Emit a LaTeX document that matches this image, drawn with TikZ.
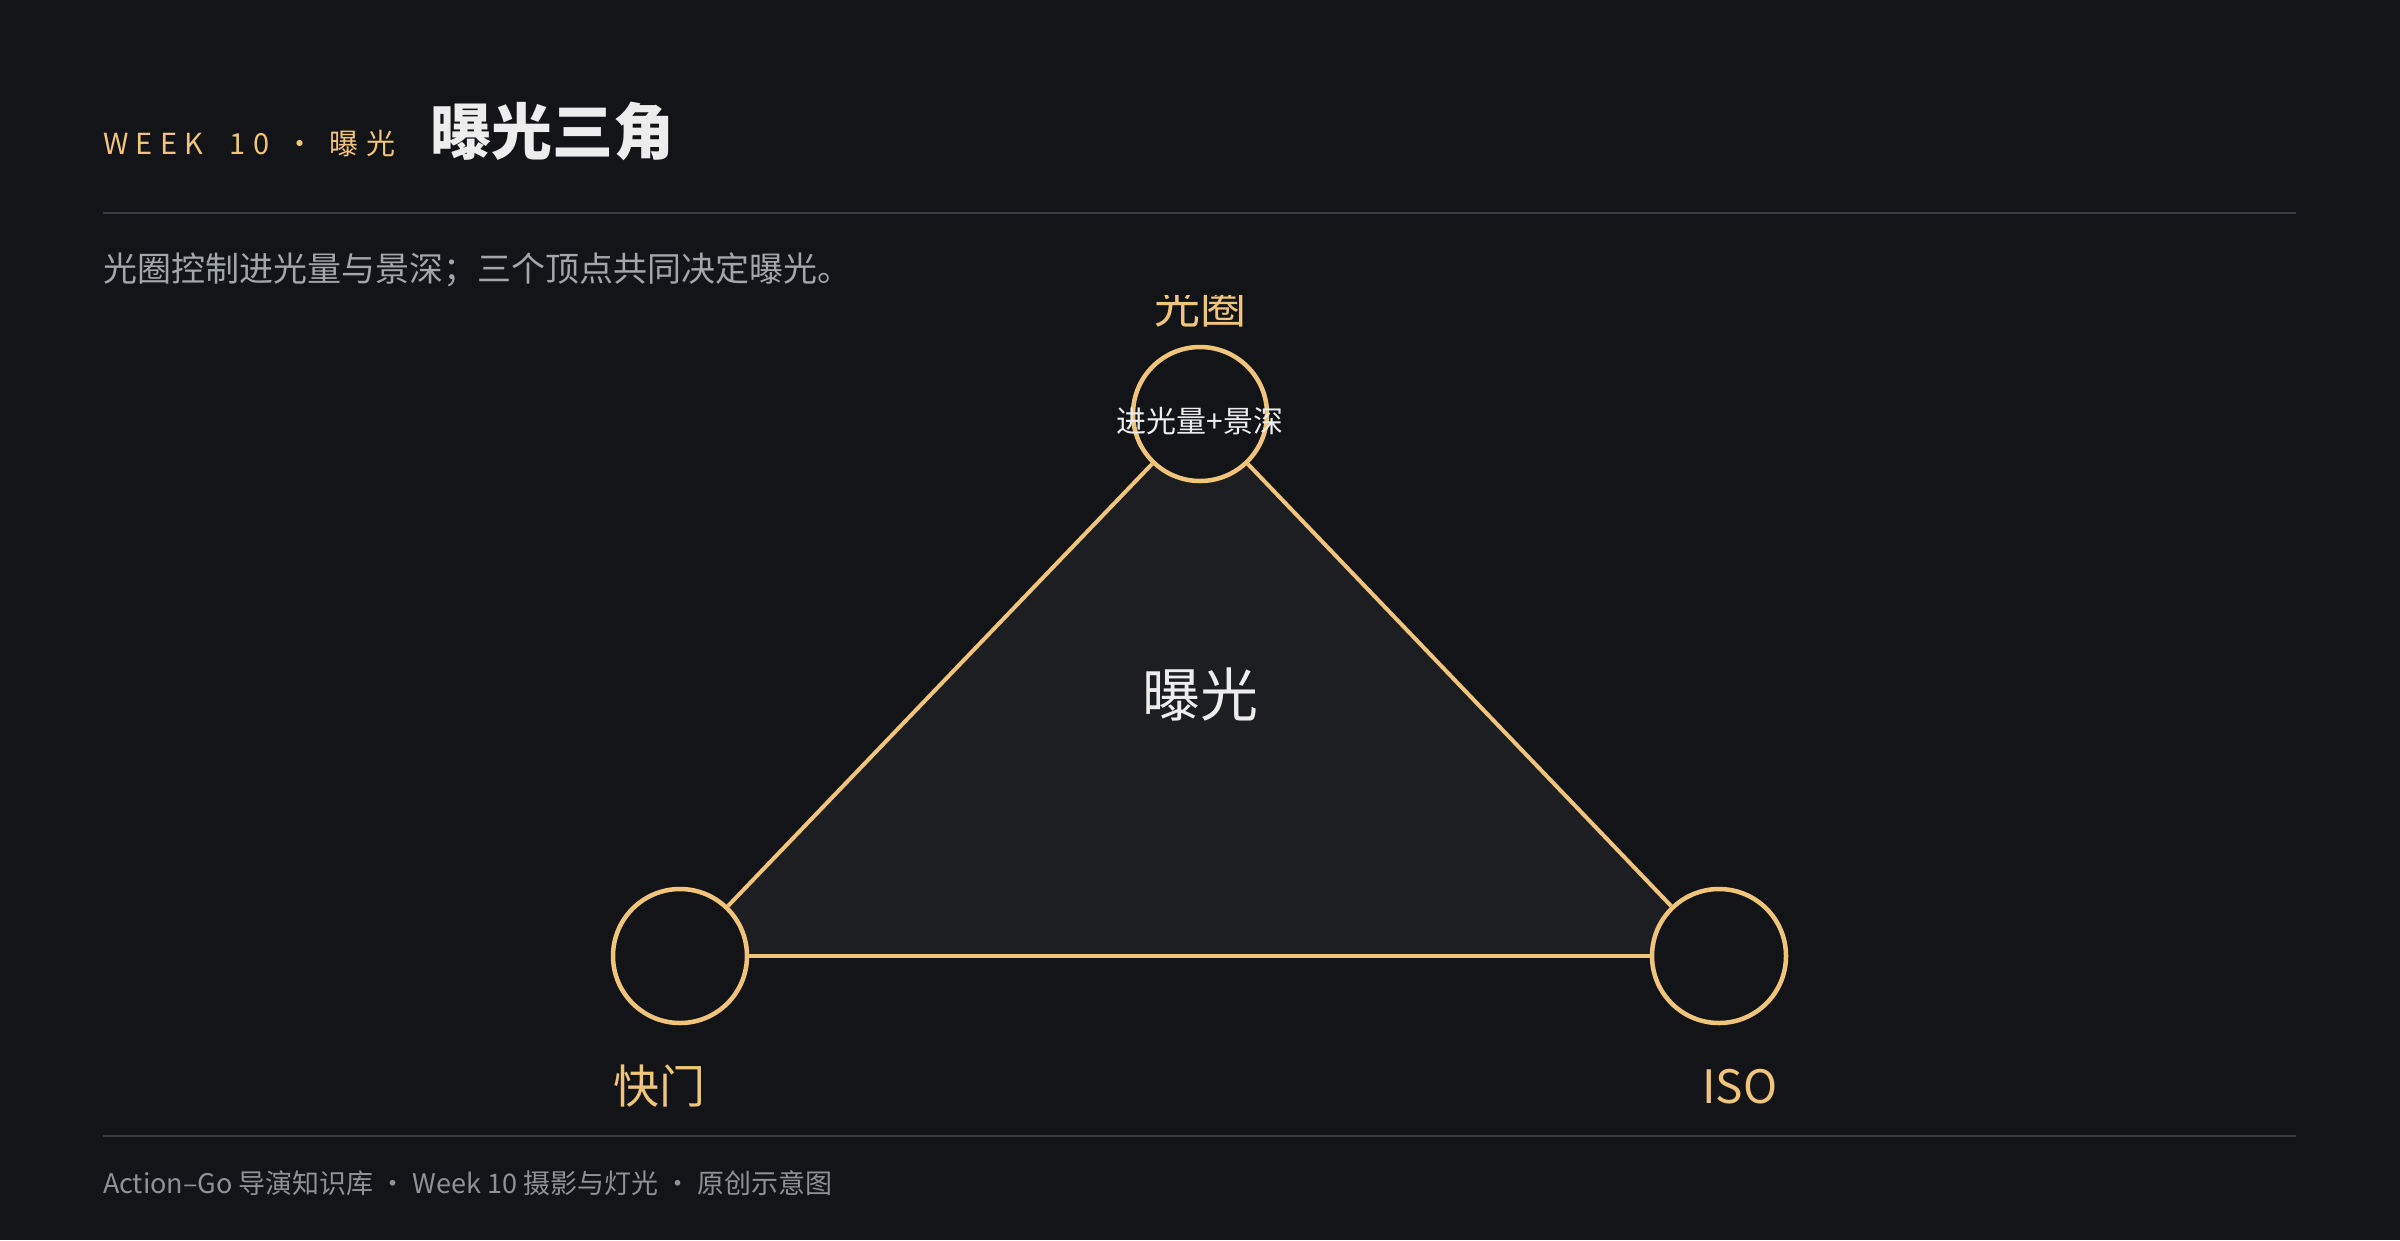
\documentclass[tikz,border=0pt]{standalone}
\usepackage{fontspec}
\setmainfont{Noto Sans CJK SC}
\definecolor{bgc}{HTML}{131417}
\definecolor{trifill}{HTML}{1D1E22}
\definecolor{gold}{HTML}{F0C47A}
\definecolor{rulec}{HTML}{3A3B40}
\definecolor{subgrey}{HTML}{A2A5AA}
\definecolor{footgrey}{HTML}{8E9196}
\definecolor{whitec}{HTML}{EDEDED}
\tikzset{
  txt/.style={inner sep=0pt, outer sep=0pt},
  vertex/.style={circle, draw=gold, line width=4.5pt, fill=bgc, minimum size=134pt, inner sep=0pt},
  edge/.style={draw=gold, line width=4pt},
  rulestyle/.style={draw=rulec, line width=2pt},
}
\begin{document}
\begin{tikzpicture}[x=1pt,y=-1pt]
\fill[bgc] (0,0) rectangle (2400,1240);
\useasboundingbox (0,0) rectangle (2400,1240);
% header
\node[txt, anchor=base west, text=gold, font=\fontsize{29}{35}\selectfont\addfontfeature{LetterSpace=25}] (kicker) at (103,154) {WEEK\hspace{13pt} 10\hspace{2pt} ·\hspace{2pt} 曝光};
\node[txt, anchor=west, text=whitec, font=\fontsize{61}{70}\selectfont\bfseries] (title) at (430,131) {曝光三角};
\coordinate (r1a) at (103,213);
\coordinate (r1b) at (2296,213);
\draw[rulestyle] (r1a) -- (r1b);
\node[txt, anchor=base west, text=subgrey, font=\fontsize{34}{40}\selectfont] (sub) at (103,281) {光圈控制进光量与景深；三个顶点共同决定曝光。};
% triangle
\coordinate (ct) at (1200,414);
\coordinate (cl) at (680,956);
\coordinate (cr) at (1719,956);
\fill[trifill] (ct) -- (cl) -- (cr) -- cycle;
\node[vertex] (top) at (ct) {};
\node[vertex] (left) at (cl) {};
\node[vertex] (right) at (cr) {};
\draw[edge] (top) -- (left);
\draw[edge] (left) -- (right);
\draw[edge] (right) -- (top);
\node[txt, text=whitec, font=\fontsize{30}{36}\selectfont] (toptxt) at (1200,421) {进光量+景深};
\node[txt, text=whitec, font=\fontsize{58}{68}\selectfont] (center) at (1200,694) {曝光};
\begin{scope}
\clip (0,295) rectangle (2400,1240);
\node[txt, text=gold, font=\fontsize{46}{54}\selectfont] (toplabel) at (1200,306) {光圈};
\end{scope}
\node[txt, text=gold, font=\fontsize{46}{54}\selectfont] (leftlabel) at (659,1086) {快门};
\node[txt, text=gold, font=\fontsize{46}{54}\selectfont] (rightlabel) at (1740,1087) {ISO};
% footer
\coordinate (r2a) at (103,1136);
\coordinate (r2b) at (2296,1136);
\draw[rulestyle] (r2a) -- (r2b);
\node[txt, anchor=base west, text=footgrey, font=\fontsize{27}{32}\selectfont] (foot) at (103,1193) {Action–Go 导演知识库 · Week 10 摄影与灯光 · 原创示意图};
\end{tikzpicture}
\end{document}
